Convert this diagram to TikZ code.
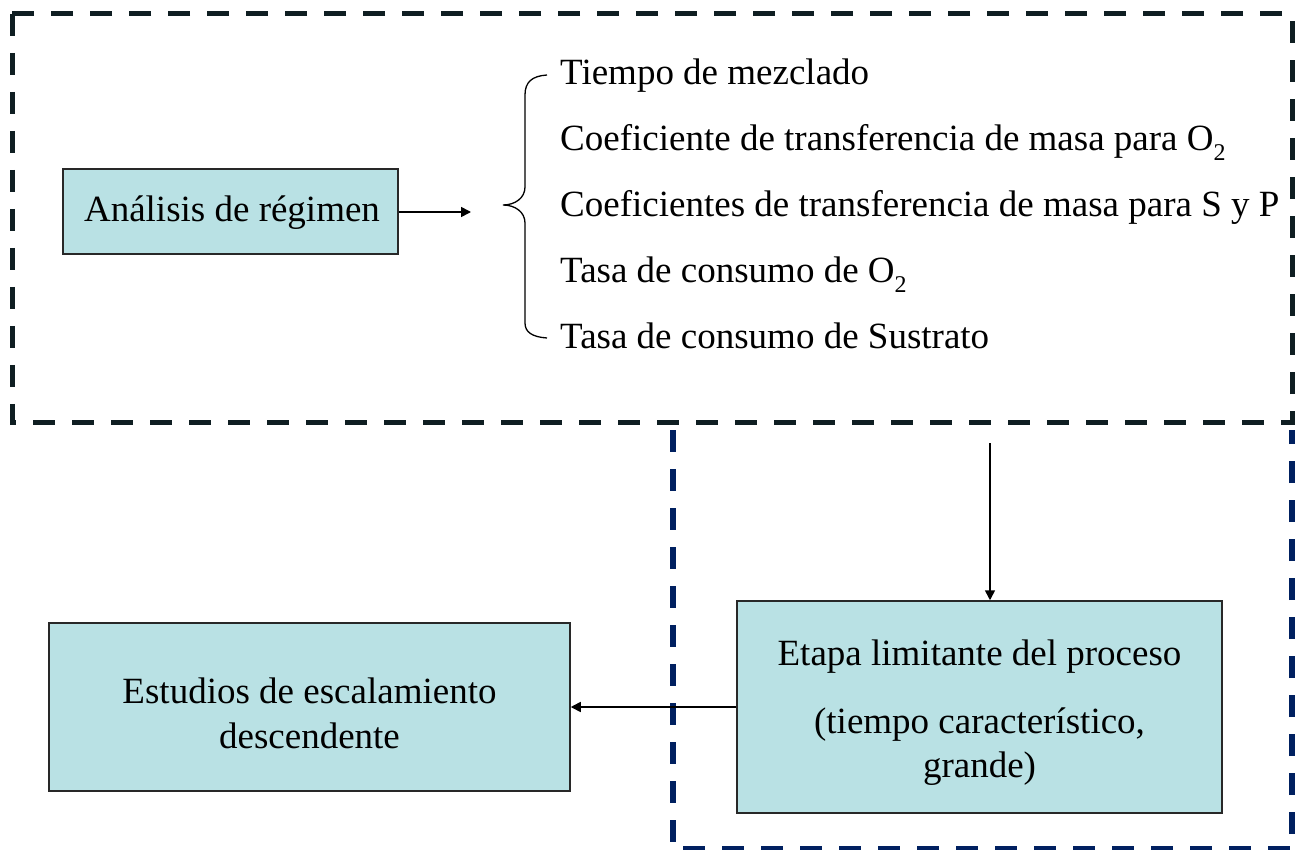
\documentclass[tikz,border=0pt]{standalone}
\usepackage{fontspec}
\setmainfont{Liberation Serif}
\usetikzlibrary{arrows.meta}
\definecolor{darkdash}{RGB}{15,30,34}
\definecolor{navydash}{RGB}{0,32,96}
\definecolor{boxfill}{RGB}{185,225,228}
\definecolor{boxline}{RGB}{40,40,40}
\newcommand{\subtwo}{\raisebox{-0.27em}{\fontsize{24}{24}\selectfont 2}}
\tikzset{
  x=1pt, y=-1pt,
  bigfont/.style={font=\fontsize{37}{45}\selectfont},
  cbox/.style={draw=boxline, line width=1.5pt, fill=boxfill, inner sep=0pt, align=center, bigfont},
  itemtext/.style={anchor=base west, inner sep=0pt, bigfont},
  linetext/.style={anchor=base, inner sep=0pt, bigfont},
  conn/.style={line width=1.6pt, -{Triangle[length=10pt,width=10pt]}},
  dashA/.style={draw=darkdash, line width=5pt, dash pattern=on 22pt off 17pt},
  dashB/.style={draw=navydash, line width=5.5pt, dash pattern=on 22pt off 17pt},
}
\begin{document}
\begin{tikzpicture}
\useasboundingbox (0,0) rectangle (1310,850);
% dashed regions
\draw[dashA] (12,14) rectangle (1292,422);
\draw[dashB] (673,430) -- (673,849) -- (1292,849) -- (1292,430);
% boxes
\node[cbox, minimum width=335pt, minimum height=85pt] (b1) at (230.5,211.5) {};
\node[linetext] (b1t) at (232,222) {An\'alisis de r\'egimen};
\node[cbox, minimum width=485pt, minimum height=212pt] (b2) at (979.5,707) {};
\node[cbox, minimum width=521pt, minimum height=168pt] (b3) at (309.5,707) {};
\node[linetext] (b3a) at (309.5,703) {Estudios de escalamiento};
\node[linetext] (b3b) at (309.5,748) {descendente};
\node[linetext] (b2a) at (979.5,665) {Etapa limitante del proceso};
\node[linetext] (b2b) at (979.5,733) {(tiempo caracter\'istico,};
\node[linetext] (b2c) at (979.5,777) {grande)};
% list
\node[itemtext] (t1) at (560,85) {Tiempo de mezclado};
\node[itemtext] (t2) at (560,151) {Coeficiente de transferencia de masa para O\subtwo};
\node[itemtext] (t3) at (560,217) {Coeficientes de transferencia de masa para S y P};
\node[itemtext] (t4) at (560,283) {Tasa de consumo de O\subtwo};
\node[itemtext] (t5) at (560,349) {Tasa de consumo de Sustrato};
% brace
\draw[line width=1.3pt] (547,75) .. controls (532,76) and (525,82) .. (525,95) -- (525,187)
  .. controls (525,198) and (515,205) .. (503,205)
  .. controls (515,205) and (525,212) .. (525,223) -- (525,323)
  .. controls (525,332) and (532,337) .. (547,338);
% connectors
\coordinate (a1) at (471,212);
\coordinate (a2) at (990,443);
\draw[conn] (b1.east |- a1) -- (a1);
\draw[conn] (a2) -- (a2 |- b2.north);
\draw[conn] (b2.west) -- (b3.east);
\end{tikzpicture}
\end{document}
